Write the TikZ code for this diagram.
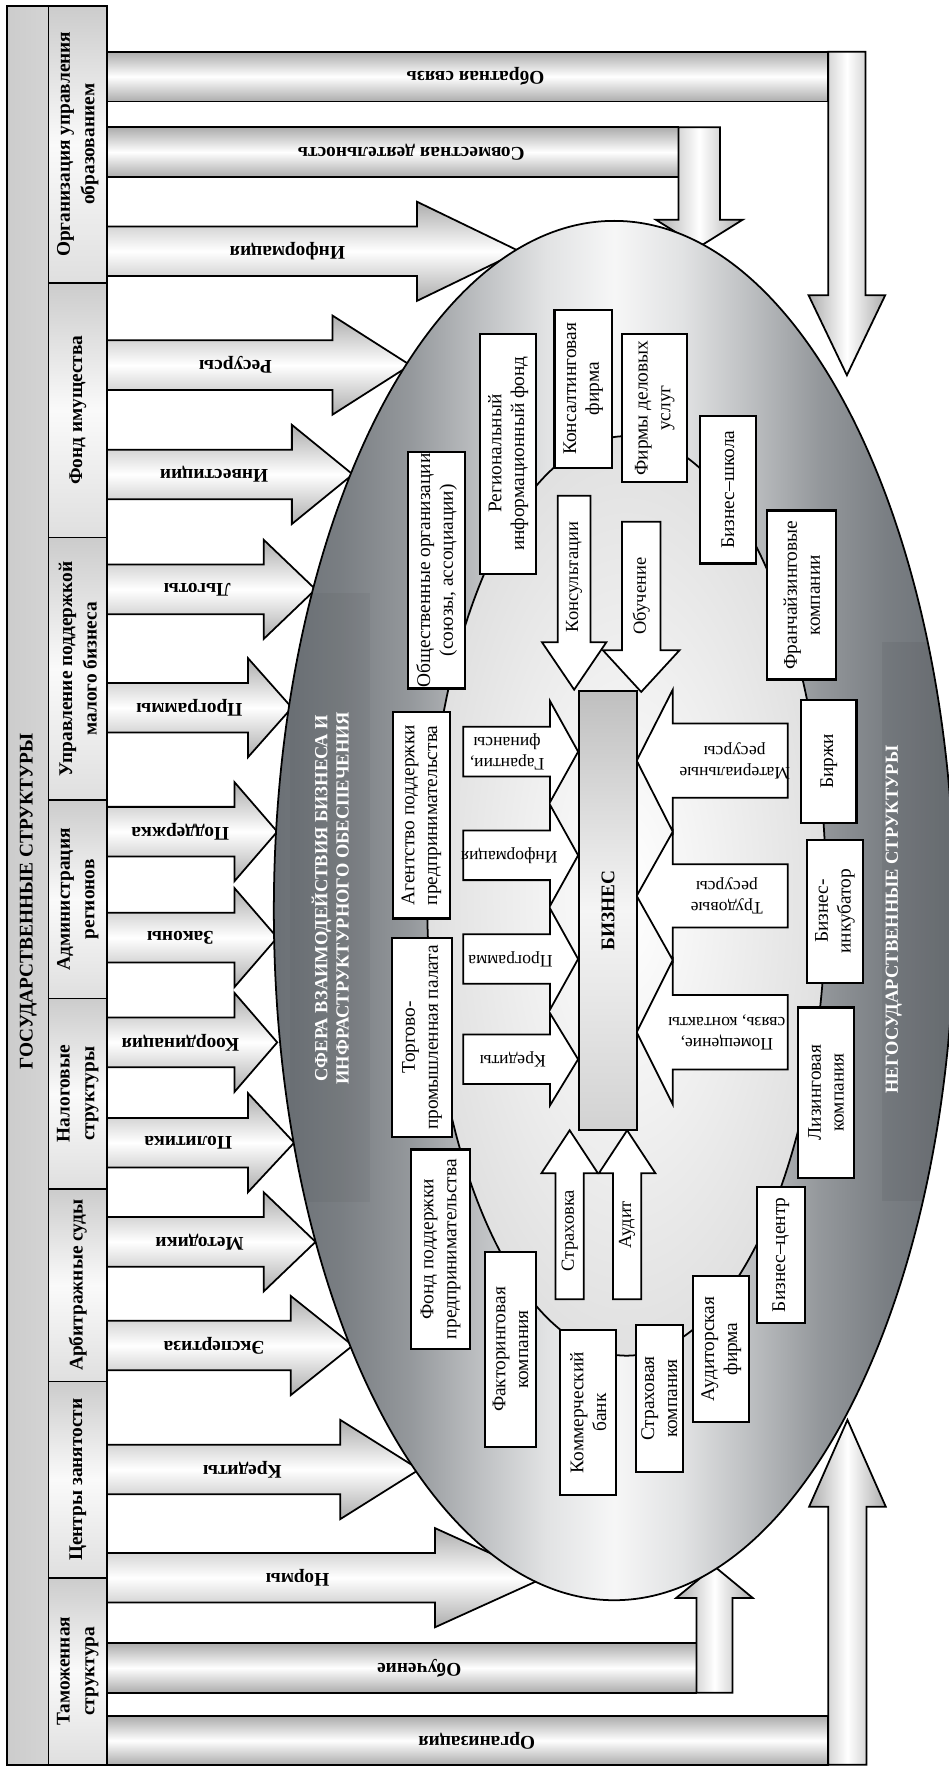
\documentclass[tikz,border=0pt]{standalone}
\usepackage{fontspec}
\setmainfont{Liberation Serif}
\newlength{\du}
\setlength{\du}{0.0225cm}
\definecolor{ringdark}{rgb}{0.42,0.44,0.46}
% only 25bp..75bp of the shading covers the path
\pgfdeclarehorizontalshading{ringshade}{100bp}{color(0bp)=(ringdark); color(25bp)=(ringdark); color(30bp)=(ringdark!90!white); color(35bp)=(ringdark!72!white); color(40bp)=(ringdark!45!white); color(45bp)=(ringdark!20!white); color(50bp)=(ringdark!6!white); color(55bp)=(ringdark!20!white); color(60bp)=(ringdark!45!white); color(65bp)=(ringdark!72!white); color(70bp)=(ringdark!90!white); color(75bp)=(ringdark); color(100bp)=(ringdark)}
% block arrows: style, start, centre, shaft half, head base, wing half, tip
\newcommand{\hblock}[7]{\path[#1] (#2,#3-#4) -- (#5,#3-#4) -- (#5,#3-#6) -- (#7,#3) -- (#5,#3+#6) -- (#5,#3+#4) -- (#2,#3+#4) -- cycle;}
\newcommand{\vblock}[7]{\path[#1] (#3-#4,#2) -- (#3-#4,#5) -- (#3-#6,#5) -- (#3,#7) -- (#3+#6,#5) -- (#3+#4,#5) -- (#3+#4,#2) -- cycle;}
\tikzset{
  colcell/.style={draw=black, line width=1pt, rotate=90, inner sep=0pt, align=center,
    top color=gray!40, bottom color=gray!25, middle color=gray!4,
    minimum height=52\du, font=\fontsize{11}{14}\selectfont\bfseries},
  hband/.style={draw=black, line width=1pt, top color=gray!65, bottom color=gray!65, middle color=white},
  vband/.style={draw=black, line width=1pt, left color=gray!65, right color=gray!65, middle color=white},
  inarrow/.style={draw=black, line width=1pt, fill=white},
  infra/.style={draw=black, line width=1.2pt, fill=white, rotate=90, inner sep=0pt, align=center,
    font=\fontsize{11}{13}\selectfont},
  barlabel/.style={rotate=180, font=\fontsize{11}{13}\selectfont\bfseries},
  flowlabel/.style={rotate=180, align=center, font=\fontsize{10}{12}\selectfont},
  uplabel/.style={rotate=90, font=\fontsize{10.5}{12.5}\selectfont},
  sphere/.style={rotate=90, align=center, text=white, font=\fontsize{10.5}{12}\selectfont\bfseries}
}
\begin{document}
\begin{tikzpicture}[x=1\du,y=-1\du]
\useasboundingbox (0,0) rectangle (842,1568);
% state structures
\path[draw=black, line width=1pt, left color=gray!40, right color=gray!25] (6,5) rectangle (95,1566);
\node[rotate=90, font=\fontsize{11}{13}\selectfont\bfseries] (gos) at (25,800) {ГОСУДАРСТВЕННЫЕ СТРУКТУРЫ};
\node[colcell, minimum width=246\du] (orguo) at (69,128) {Организация управления\\образованием};
\node[colcell, minimum width=226\du] (fondim) at (69,364) {Фонд имущества};
\node[colcell, minimum width=233\du] (upravl) at (69,593.5) {Управление поддержкой\\малого бизнеса};
\node[colcell, minimum width=176\du] (admin) at (69,798) {Администрация\\регионов};
\node[colcell, minimum width=169\du] (nalog) at (69,970.5) {Налоговые\\структуры};
\node[colcell, minimum width=171\du] (arbitr) at (69,1140.5) {Арбитражные суды};
\node[colcell, minimum width=174\du] (centr) at (69,1313) {Центры занятости};
\node[colcell, minimum width=166\du] (tamozh) at (69,1483) {Таможенная\\структура};

% bands with bent arrows
\path[hband] (95,46) rectangle (735,90);
\vblock{vband}{46}{751.5}{16.5}{262}{34}{333}
\path[hband] (95,113) rectangle (602,157);
\vblock{vband}{113}{620.5}{18.5}{195}{38.5}{219}
\path[hband] (95,1458) rectangle (618,1502);
\vblock{vband}{1502}{634}{16}{1418}{34}{1390}
\path[hband] (95,1523) rectangle (735,1566);
\vblock{vband}{1566}{752}{17}{1337}{34}{1260}

% arrows to the sphere
\hblock{hband}{95}{223}{22}{370}{44}{461}
\hblock{hband}{95}{324}{22}{295}{44}{364}
\hblock{hband}{95}{421}{22}{259}{44}{313}
\hblock{hband}{95}{523}{22}{234}{44}{280}
\hblock{hband}{95}{628}{22}{220}{44}{259}
\hblock{hband}{95}{738}{22}{208}{44}{246}
\hblock{hband}{95}{832}{22}{208}{44}{246}
\hblock{hband}{95}{925}{22}{208}{44}{246}
\hblock{hband}{95}{1014}{22}{220}{44}{261}
\hblock{hband}{95}{1102}{22}{234}{44}{280}
\hblock{hband}{95}{1194}{22}{258}{44}{313}
\hblock{hband}{95}{1304}{22}{302}{44}{372}
\hblock{hband}{95}{1400}{22}{386}{44}{483}

\node[barlabel] (lobrat) at (422,68) {Обратная связь};
\node[barlabel] (lsovm) at (365,135) {Совместная деятельность};
\node[barlabel] (linform) at (255,223) {Информация};
\node[barlabel] (lresurs) at (209,324) {Ресурсы};
\node[barlabel] (linvest) at (190,421) {Инвестиции};
\node[barlabel] (llgoty) at (175,523) {Льготы};
\node[barlabel] (lprogr) at (168,628) {Программы};
\node[barlabel] (lpodd) at (160,738) {Поддержка};
\node[barlabel] (lzakon) at (160,832) {Законы};
\node[barlabel] (lkoord) at (160,925) {Координация};
\node[barlabel] (lpolit) at (167,1014) {Политика};
\node[barlabel] (lmetod) at (177,1102) {Методики};
\node[barlabel] (lekspert) at (190,1194) {Экспертиза};
\node[barlabel] (lkredit) at (215,1304) {Кредиты};
\node[barlabel] (lnormy) at (264,1400) {Нормы};
\node[barlabel] (lobuch) at (372,1480) {Обучение};
\node[barlabel] (lorgan) at (423,1545) {Организация};

% sphere
\path[draw=black, line width=1pt, shading=ringshade] (545,808) ellipse [x radius=302\du, y radius=612\du];
\begin{scope}
\clip (545,808) ellipse [x radius=302\du, y radius=612\du];
\fill[black, opacity=0.04] (257,526) rectangle (328,1067);
\fill[black, opacity=0.05] (783,570) rectangle (850,1066);
\end{scope}
\node[sphere] (sfera) at (293,797) {СФЕРА ВЗАИМОДЕЙСТВИЯ БИЗНЕСА И\\ИНФРАСТРУКТУРНОГО ОБЕСПЕЧЕНИЯ};
\node[sphere] (negos) at (793,816) {НЕГОСУДАРСТВЕННЫЕ СТРУКТУРЫ};
\path[draw=black, line width=1pt, inner color=white, outer color=gray!24] (556,795) ellipse [x radius=177\du, y radius=408\du];

% infrastructure
\node[infra, minimum width=210\du, minimum height=51\du] (obsh) at (387.5,506) {Общественные организации\\(союзы, ассоциации)};
\node[infra, minimum width=213\du, minimum height=50\du] (regfond) at (451,402.5) {Региональный\\информационный фонд};
\node[infra, minimum width=140\du, minimum height=51\du] (konsalt) at (517.5,345) {Консалтинговая\\фирма};
\node[infra, minimum width=132\du, minimum height=58\du] (firmy) at (581,362) {Фирмы деловых\\услуг};
\node[infra, minimum width=131\du, minimum height=50\du] (bshkola) at (646,434.5) {Бизнес–школа};
\node[infra, minimum width=150\du, minimum height=61\du] (franch) at (711.5,528) {Франчайзинговые\\компании};
\node[infra, minimum width=109\du, minimum height=49\du] (birzhi) at (735.5,675.5) {Биржи};
\node[infra, minimum width=127\du, minimum height=50\du] (inkub) at (741,808.5) {Бизнес-\\инкубатор};
\node[infra, minimum width=151\du, minimum height=50\du] (lizing) at (733,969.5) {Лизинговая\\компания};
\node[infra, minimum width=121\du, minimum height=42\du] (bcentr) at (693,1113.5) {Бизнес–центр};
\node[infra, minimum width=130\du, minimum height=50\du] (audfirm) at (640,1197) {Аудиторская\\фирма};
\node[infra, minimum width=130\du, minimum height=42\du] (strakh) at (585,1241) {Страховая\\компания};
\node[infra, minimum width=147\du, minimum height=50\du] (kombank) at (522,1253.5) {Коммерческий\\банк};
\node[infra, minimum width=173\du, minimum height=46\du] (faktor) at (453,1197.5) {Факторинговая\\компания};
\node[infra, minimum width=177\du, minimum height=52\du] (fondpodd) at (391,1108.5) {Фонд поддержки\\предпринимательства};
\node[infra, minimum width=177\du, minimum height=53\du] (tpp) at (374.5,920.5) {Торгово-\\промышленная палата};
\node[infra, minimum width=183\du, minimum height=50\du] (agent) at (374,723.5) {Агентство поддержки\\предпринимательства};

% flows to business
\vblock{inarrow}{440}{509.5}{14.5}{570}{28.5}{612}
\vblock{inarrow}{463}{569}{17}{577}{34}{614}
\vblock{inarrow}{1153}{505.5}{12.5}{1041}{25}{1003}
\vblock{inarrow}{1153}{556.5}{12.5}{1041}{25}{1003}
\hblock{inarrow}{411}{667}{22}{488}{45}{513}
\hblock{inarrow}{411}{759}{22}{488}{45}{513}
\hblock{inarrow}{411}{851}{22}{488}{45}{513}
\hblock{inarrow}{411}{940}{22}{488}{41}{513}
\hblock{inarrow}{699}{675}{33}{597}{63}{565}
\hblock{inarrow}{699}{795}{28}{597}{57}{565}
\hblock{inarrow}{699}{916}{33}{597}{64}{565}

\node[uplabel] (fkons) at (509.5,512) {Консультации};
\node[uplabel] (fobuch) at (569,529) {Обучение};
\node[uplabel] (fstrakh) at (505.5,1092) {Страховка};
\node[uplabel] (faudit) at (556.5,1087) {Аудит};
\node[flowlabel] (fgarant) at (450,667) {Гарантии,\\финансы};
\node[flowlabel] (finform) at (452,759) {Информация};
\node[flowlabel] (fprogr) at (453,851) {Программа};
\node[flowlabel] (fkredit) at (455,940) {Кредиты};
\node[flowlabel] (fmater) at (652,675) {Материальные\\ресурсы};
\node[flowlabel] (ftrud) at (645,795) {Трудовые\\ресурсы};
\node[flowlabel] (fpomesh) at (645,916) {Помещение,\\связь, контакты};

\node[draw=black, line width=1pt, rotate=90, minimum width=390\du, minimum height=51\du,
  top color=gray!50, bottom color=gray!35, middle color=gray!8,
  font=\fontsize{11}{13}\selectfont\bfseries] (biz) at (539.5,808) {БИЗНЕС};
\end{tikzpicture}
\end{document}
